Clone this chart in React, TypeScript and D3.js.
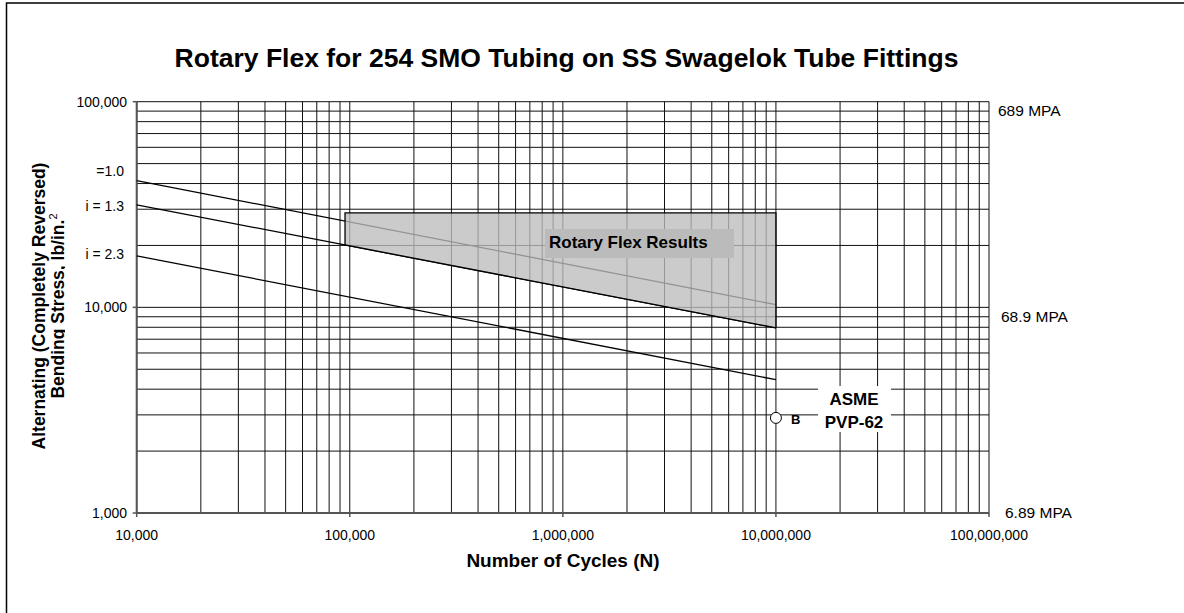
import * as d3 from 'd3';

// data
const cycleEnds = [1e4, 1e7];
const stressI10 = [41300, 10300];
const stressI13 = [31500, 7950];
const stressI23 = [17800, 4450];
const lineLabels = ['=1.0', 'i = 1.3', 'i = 2.3'];
const labelNudge = [-5, 6, 3];

const boxCycles = [95000, 1e7];
const boxTop = [28800, 28800];
const boxBottom = [20100, 7950];

const pointB = { n: 1e7, s: 2900 };

const xTicks = [1e4, 1e5, 1e6, 1e7, 1e8];
const yTicks = [1e3, 1e4, 1e5];
const mpaLabels = ['6.89 MPA', '68.9 MPA', '689 MPA'];
const mpaNudge = [[16, 5], [12, 15], [9, 14]];

const W = 1184;
const H = 613;
const FONT = '"Liberation Sans", Arial, sans-serif';
const fmt = d3.format(',');

export default function App() {
  const x = d3.scaleLog().domain([1e4, 1e8]).range([136.7, 989]);
  const y = d3.scaleLog().domain([1e3, 1e5]).range([513, 101.7]);

  const minorX: number[] = [];
  for (let d = 4; d < 8; d++) for (let k = 1; k <= 9; k++) minorX.push(k * 10 ** d);
  minorX.push(1e8);
  const minorY: number[] = [];
  for (let d = 3; d < 5; d++) for (let k = 1; k <= 9; k++) minorY.push(k * 10 ** d);
  minorY.push(1e5);

  const [x0, x1] = x.range();
  const [yb, yt] = y.range();

  const line = d3
    .line<[number, number]>()
    .x((d) => x(d[0]))
    .y((d) => y(d[1]));

  const series = [stressI10, stressI13, stressI23];

  const boxPts: [number, number][] = [
    [boxCycles[0], boxTop[0]],
    [boxCycles[1], boxTop[1]],
    [boxCycles[1], boxBottom[1]],
    [boxCycles[0], boxBottom[0]],
  ];

  return (
    <svg width={W} height={H} style={{ position: 'absolute', left: 0, top: 0, fontFamily: FONT }}>
      <rect x={0} y={0} width={W} height={H} fill="#fff" />
      <rect x={6.5} y={3} width={W + 20} height={H + 20} fill="none" stroke="#000" strokeWidth={1.5} />

      <text x={566.5} y={67} textAnchor="middle" fontSize={26.5} fontWeight="bold">
        Rotary Flex for 254 SMO Tubing on SS Swagelok Tube Fittings
      </text>

      {/* grid */}
      {minorY.map((v) => (
        <line key={'h' + v} x1={x0} x2={x1} y1={y(v)} y2={y(v)} stroke="#111" strokeWidth={1} />
      ))}
      {minorX.map((v) => (
        <line key={'v' + v} x1={x(v)} x2={x(v)} y1={yt} y2={yb} stroke="#111" strokeWidth={1} />
      ))}

      {/* axes */}
      <line x1={x0} x2={x0} y1={yt} y2={yb} stroke="#555" strokeWidth={2} />
      <line x1={x0} x2={x1} y1={yb} y2={yb} stroke="#555" strokeWidth={2} />
      {yTicks.map((v) => (
        <g key={'yt' + v}>
          <line x1={x0 - 4} x2={x0} y1={y(v)} y2={y(v)} stroke="#555" strokeWidth={1.5} />
          <text x={127} y={y(v) + 5} textAnchor="end" fontSize={14}>
            {fmt(v)}
          </text>
        </g>
      ))}
      {xTicks.map((v) => (
        <g key={'xt' + v}>
          <line x1={x(v)} x2={x(v)} y1={yb} y2={yb + 4} stroke="#555" strokeWidth={1.5} />
          <text x={x(v)} y={yb + 27} textAnchor="middle" fontSize={14}>
            {fmt(v)}
          </text>
        </g>
      ))}
      {yTicks.map((v, i) => (
        <text key={'mpa' + v} x={x1 + mpaNudge[i][0]} y={y(v) + mpaNudge[i][1]} fontSize={15.5}>
          {mpaLabels[i]}
        </text>
      ))}

      {/* design curves */}
      {series.map((s, i) => (
        <g key={'s' + i}>
          <path
            d={line(cycleEnds.map((n, j) => [n, s[j]] as [number, number])) || ''}
            fill="none"
            stroke="#000"
            strokeWidth={1.3}
          />
          <text x={124} y={y(s[0]) + labelNudge[i]} textAnchor="end" fontSize={14}>
            {lineLabels[i]}
          </text>
        </g>
      ))}

      {/* rotary flex results region */}
      <path d={line(boxPts) + 'Z'} fill="#bdbdbd" fillOpacity={0.78} stroke="none" />
      <path
        d={line(boxPts.slice(2).concat([boxPts[0], boxPts[1], boxPts[2]])) || ''}
        fill="none"
        stroke="#000"
        strokeWidth={1.3}
      />
      <rect x={545} y={229} width={189} height={29} fill="#bbbbbb" />
      <text x={549} y={247.5} fontSize={17} fontWeight="bold">
        Rotary Flex Results
      </text>

      {/* ASME point */}
      <rect x={818} y={386} width={73} height={46} fill="#fff" />
      <text x={854} y={405} textAnchor="middle" fontSize={17} fontWeight="bold">
        ASME
      </text>
      <text x={854} y={428} textAnchor="middle" fontSize={17} fontWeight="bold">
        PVP-62
      </text>
      <circle cx={x(pointB.n)} cy={y(pointB.s)} r={5.5} fill="#fff" stroke="#000" strokeWidth={1} />
      <text x={791} y={424} fontSize={13} fontWeight="bold">
        B
      </text>

      {/* axis titles */}
      <text x={563} y={567} textAnchor="middle" fontSize={19} fontWeight="bold">
        Number of Cycles (N)
      </text>
      <defs>
        <clipPath id="ytclip">
          <rect x={0} y={0} width={65} height={H} />
        </clipPath>
      </defs>
      <g clipPath="url(#ytclip)" fontSize={17.5} fontWeight="bold">
        <text transform="translate(45,306) rotate(-90)" textAnchor="middle">
          Alternating (Completely Reversed)
        </text>
        <text transform="translate(64,306) rotate(-90)" textAnchor="middle">
          Bending Stress, lb/in.
          <tspan fontSize={11} dy={-7} fontWeight="normal">
            2
          </tspan>
        </text>
      </g>
    </svg>
  );
}
